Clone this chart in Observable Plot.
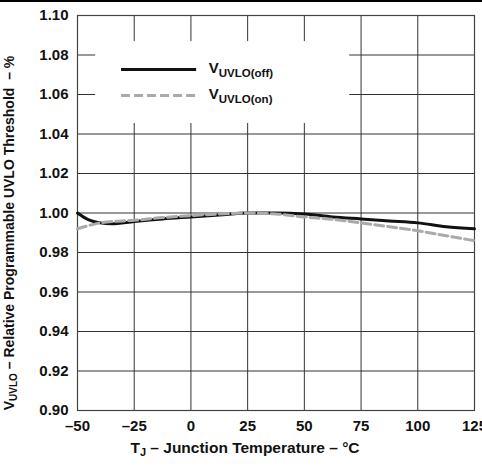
<!DOCTYPE html>
<html>
<head>
<meta charset="utf-8">
<script src="https://cdn.jsdelivr.net/npm/d3@7"></script>
<script src="https://cdn.jsdelivr.net/npm/@observablehq/plot@0.6"></script>
<style>
  html, body { margin: 0; padding: 0; background: #fff; }
  #chart svg { display: block; }
</style>
</head>
<body>
<div id="chart"></div>
<script>
// ---- data ----
const xTicks = [-50, -25, 0, 25, 50, 75, 100, 125];
const yTicks = [0.90, 0.92, 0.94, 0.96, 0.98, 1.00, 1.02, 1.04, 1.06, 1.08, 1.10];

const tempOff = [-50, -45, -40, -35, -25, -12.5, 0, 12.5, 25, 37.5, 50, 62.5, 75, 87.5, 100, 112.5, 125];
const vOff    = [1.000, 0.9965, 0.995, 0.9945, 0.9957, 0.997, 0.998, 0.999, 1.000, 1.000, 0.9995, 0.998, 0.997, 0.996, 0.995, 0.993, 0.992];

const tempOn = [-50, -40, -30, -25, -12.5, 0, 12.5, 25, 37.5, 50, 62.5, 75, 87.5, 100, 112.5, 125];
const vOn    = [0.992, 0.995, 0.996, 0.9963, 0.9977, 0.9987, 0.9995, 1.000, 0.9995, 0.998, 0.9968, 0.995, 0.993, 0.991, 0.9885, 0.986];

const seriesSubs = ["UVLO(off)", "UVLO(on)"];
const legendBox = {x1: -42, x2: 70, y1: 1.0453, y2: 1.0868};
const legendLineX = [-30.8, 2.3];
const legendLineY = [1.0727, 1.0595];
const legendTextX = 8.1;

const offData = tempOff.map((t, i) => ({t, v: vOff[i]}));
const onData = tempOn.map((t, i) => ({t, v: vOn[i]}));
const legendData = legendLineY.map((y, i) => ({x1: legendLineX[0], x2: legendLineX[1], y, k: i}));

const FONT = "'Liberation Sans', Arial, Helvetica, sans-serif";

const plot = Plot.plot({
  width: 482,
  height: 466,
  marginLeft: 77,
  marginRight: 8,
  marginTop: 15,
  marginBottom: 56,
  style: {fontFamily: FONT, fontWeight: "bold", fontSize: "15px", color: "#000", background: "#fff"},
  x: {domain: [-50, 125]},
  y: {domain: [0.90, 1.10]},
  marks: [
    Plot.gridX(xTicks, {stroke: "#333", strokeOpacity: 1, strokeWidth: 1}),
    Plot.gridY(yTicks, {stroke: "#333", strokeOpacity: 1, strokeWidth: 1}),
    Plot.rect([legendBox], {x1: "x1", x2: "x2", y1: "y1", y2: "y2", fill: "#fff"}),
    Plot.frame({stroke: "#444", strokeWidth: 1.2}),
    Plot.axisX(xTicks, {tickSize: 0, tickPadding: 10, label: null, fill: "#111",
      tickFormat: d => d < 0 ? "\u2013" + Math.abs(d) : String(d)}),
    Plot.axisY(yTicks, {tickSize: 0, tickPadding: 9, label: null, fill: "#111",
      tickFormat: d3.format(".2f")}),
    Plot.line(offData, {x: "t", y: "v", stroke: "#111", strokeWidth: 3, curve: "monotone-x"}),
    Plot.line(onData, {x: "t", y: "v", stroke: "#aaa", strokeWidth: 3, strokeDasharray: "9,4", curve: "monotone-x"}),
    Plot.link(legendData.filter(d => d.k === 0), {x1: "x1", x2: "x2", y1: "y", y2: "y", stroke: "#111", strokeWidth: 3}),
    Plot.link(legendData.filter(d => d.k === 1), {x1: "x1", x2: "x2", y1: "y", y2: "y", stroke: "#aaa", strokeWidth: 3, strokeDasharray: "9,4"})
  ]
});

document.getElementById("chart").append(plot);

const svg = d3.select(plot);
const sx = plot.scale("x"), sy = plot.scale("y");

// top rule
svg.append("line").attr("x1", 0).attr("x2", 482).attr("y1", 1).attr("y2", 1)
  .attr("stroke", "#000").attr("stroke-width", 2);

// legend text
legendLineY.forEach((yv, i) => {
  const t = svg.append("text")
    .attr("x", sx.apply(legendTextX))
    .attr("y", sy.apply(yv) + 4)
    .attr("text-anchor", "start")
    .attr("font-family", FONT).attr("font-weight", "bold").attr("font-size", 15).attr("fill", "#111");
  t.append("tspan").text("V");
  t.append("tspan").attr("dy", 4).attr("font-size", 11.5).text(seriesSubs[i]);
});

// x axis label
const xl = svg.append("text")
  .attr("x", 245)
  .attr("y", 453)
  .attr("text-anchor", "middle")
  .attr("font-family", FONT).attr("font-weight", "bold").attr("font-size", 15.5).attr("fill", "#111");
xl.append("tspan").text("T");
xl.append("tspan").attr("dy", 3).attr("font-size", 11).text("J");
xl.append("tspan").attr("dy", -3).text(" \u2013 Junction Temperature \u2013 \u00B0C");

// y axis label
const yl = svg.append("text")
  .attr("transform", "translate(14,233) rotate(-90)")
  .attr("text-anchor", "middle")
  .attr("font-family", FONT).attr("font-weight", "bold").attr("font-size", 14).attr("fill", "#111");
yl.append("tspan").text("V");
yl.append("tspan").attr("dy", 3).attr("font-size", 10).text("UVLO");
yl.append("tspan").attr("dy", -3).text(" \u2013 Relative Programmable UVLO Threshold\u00A0 \u2013 %");
</script>
</body>
</html>
